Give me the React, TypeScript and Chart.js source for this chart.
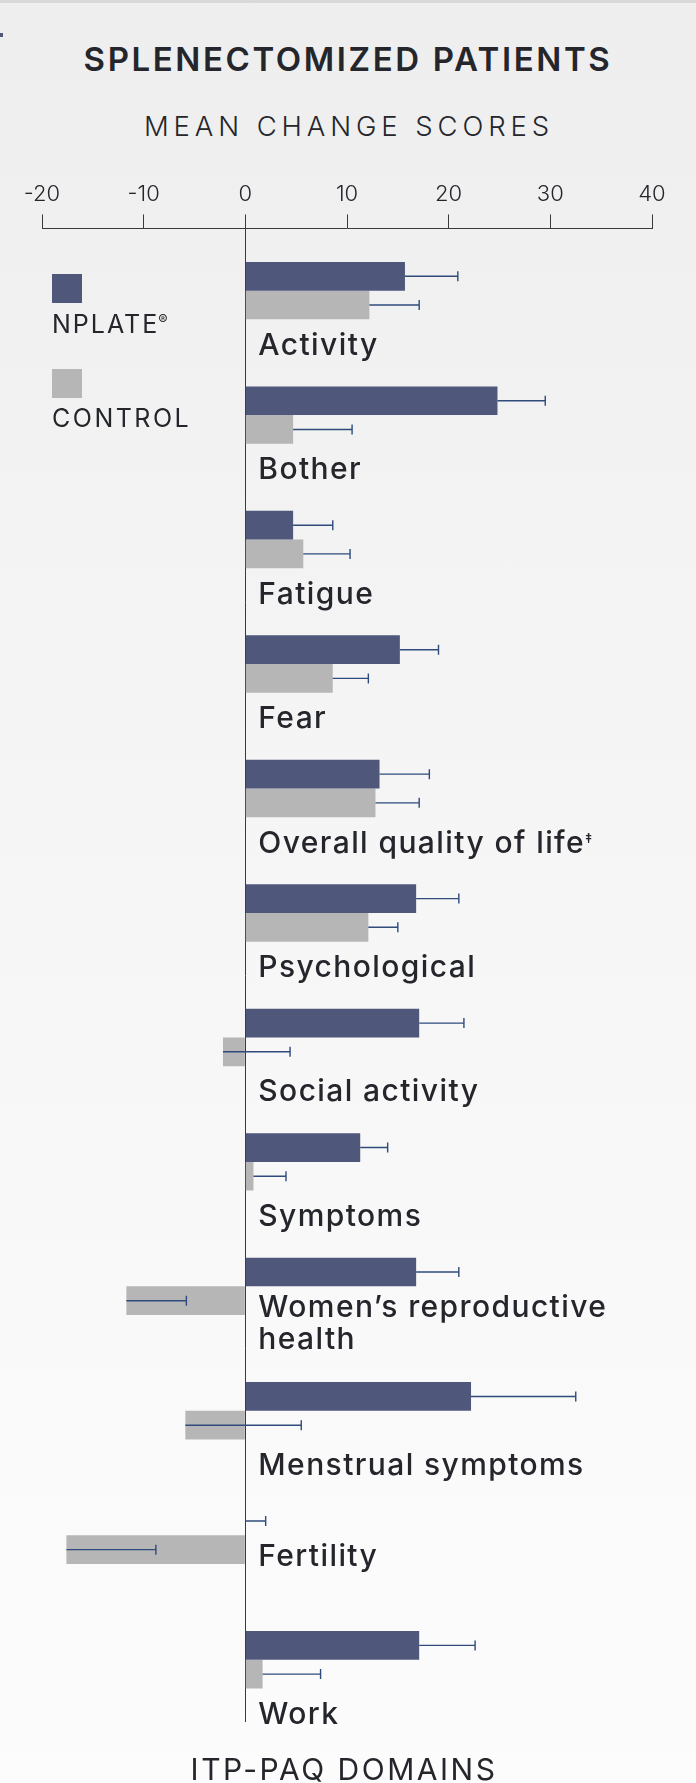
import React, { useEffect, useRef } from 'react';
import { Chart, registerables } from 'chart.js';

Chart.register(...registerables);

// ITP-PAQ domains, top to bottom
const domains: (string | string[])[] = [
  'Activity',
  'Bother',
  'Fatigue',
  'Fear',
  'Overall quality of life‡',
  'Psychological',
  'Social activity',
  'Symptoms',
  ['Women’s reproductive', 'health'],
  'Menstrual symptoms',
  'Fertility',
  'Work',
];

// mean change scores and the upper error (drawn to the right of each bar end)
const nplate = [15.7, 24.8, 4.7, 15.2, 13.2, 16.8, 17.1, 11.3, 16.8, 22.2, 0, 17.1];
const nplateErr = [5.2, 4.7, 3.9, 3.8, 4.9, 4.2, 4.4, 2.7, 4.2, 10.3, 2.0, 5.5];
const control = [12.2, 4.7, 5.7, 8.6, 12.8, 12.1, -2.2, 0.8, -11.7, -5.9, -17.6, 1.7];
const controlErr = [4.9, 5.8, 4.6, 3.5, 4.3, 2.9, 6.6, 3.2, 5.9, 11.4, 8.8, 5.7];

const axisTicks = [-20, -10, 0, 10, 20, 30, 40];

const NPLATE_LABEL = 'NPLATE®';
const CONTROL_LABEL = 'CONTROL';
const NPLATE_COLOR = '#4f577b';
const CONTROL_COLOR = '#b6b6b6';
const ERR_COLOR = '#2e4b7c';
const INK = '#24262c';
const FONT = 'Inter, "Noto Sans", sans-serif';

const errorBars = {
  id: 'errorBars',
  afterDatasetsDraw(chart: any) {
    const { ctx } = chart;
    const x = chart.scales.x;
    ctx.save();
    ctx.strokeStyle = ERR_COLOR;
    ctx.lineWidth = 1.4;
    chart.data.datasets.forEach((ds: any, di: number) => {
      const meta = chart.getDatasetMeta(di);
      meta.data.forEach((bar: any, i: number) => {
        const v = ds.data[i] as number;
        const start = x.getPixelForValue(v);
        const end = x.getPixelForValue(v + ds.errors[i]);
        const y = bar.y;
        ctx.beginPath();
        ctx.moveTo(start, y);
        ctx.lineTo(end, y);
        ctx.moveTo(end, y - 5);
        ctx.lineTo(end, y + 5);
        ctx.stroke();
      });
    });
    ctx.restore();
  },
};

const domainLabels = {
  id: 'domainLabels',
  afterDatasetsDraw(chart: any) {
    const { ctx } = chart;
    const x = chart.scales.x;
    const y = chart.scales.y;
    const left = x.getPixelForValue(0) + 13;
    ctx.save();
    ctx.fillStyle = INK;
    ctx.textAlign = 'left';
    ctx.textBaseline = 'alphabetic';
    ctx.letterSpacing = '1.4px';
    domains.forEach((label, i) => {
      const lines = Array.isArray(label) ? label : [label];
      // when the control row is all left of zero the label moves up beside it
      const tucked = control[i] + controlErr[i] <= 0;
      const base = y.getPixelForValue(i) + (tucked ? 31 : 64);
      lines.forEach((line, k) => {
        const ly = base + k * 32;
        const mark = line.endsWith('‡');
        const text = mark ? line.slice(0, -1) : line;
        ctx.font = `500 30px ${FONT}`;
        ctx.fillText(text, left, ly);
        if (mark) {
          const w = ctx.measureText(text).width;
          ctx.font = `600 13px ${FONT}`;
          ctx.fillText('‡', left + w, ly - 10);
        }
      });
    });
    ctx.restore();
  },
};

const App: React.FC = () => {
  const chartRef = useRef<HTMLCanvasElement | null>(null);

  useEffect(() => {
    const el = chartRef.current;
    if (!el) return;
    const ctx = el.getContext('2d');
    if (!ctx) return;

    const chart = new Chart(ctx, {
      type: 'bar',
      data: {
        labels: domains,
        datasets: [
          {
            label: NPLATE_LABEL,
            data: nplate,
            errors: nplateErr,
            backgroundColor: NPLATE_COLOR,
            borderWidth: 0,
          } as any,
          {
            label: CONTROL_LABEL,
            data: control,
            errors: controlErr,
            backgroundColor: CONTROL_COLOR,
            borderWidth: 0,
          } as any,
        ],
      },
      options: {
        indexAxis: 'y',
        animation: false,
        responsive: true,
        maintainAspectRatio: false,
        categoryPercentage: 0.4614,
        barPercentage: 1,
        layout: { padding: { top: 174, left: 42, right: 44, bottom: 61 } },
        plugins: {
          legend: { display: false },
          tooltip: { enabled: false },
        },
        scales: {
          x: {
            type: 'linear',
            position: 'top',
            min: axisTicks[0],
            max: axisTicks[axisTicks.length - 1],
            ticks: {
              stepSize: axisTicks[1] - axisTicks[0],
              color: INK,
              padding: 7,
              font: { family: FONT, size: 22, weight: 300 },
            },
            grid: {
              color: (c: any) => (c.tick && c.tick.value === 0 ? '#3a3a3a' : 'rgba(0,0,0,0)'),
              tickColor: '#3a3a3a',
              tickLength: 14,
              lineWidth: 1,
            },
            border: { display: true, color: '#3a3a3a', width: 1 },
          },
          y: {
            type: 'category',
            display: false,
            offset: true,
          },
        },
      } as any,
      plugins: [errorBars, domainLabels],
    });

    return () => {
      chart.destroy();
    };
  }, []);

  const text: React.CSSProperties = {
    position: 'absolute',
    fontFamily: FONT,
    color: INK,
    lineHeight: 1,
    whiteSpace: 'nowrap',
    margin: 0,
  };

  return (
    <div
      style={{
        position: 'absolute',
        left: 0,
        top: 0,
        width: 696,
        height: 1783,
        overflow: 'hidden',
        background: 'linear-gradient(to bottom, #eeeeee 0%, #f6f6f6 50%, #fcfcfc 100%)',
      }}
    >
      <div style={{ position: 'absolute', left: 0, top: 0, width: 696, height: 3, background: '#d9d9d9' }} />
      <div style={{ position: 'absolute', left: 0, top: 33, width: 3, height: 4, background: NPLATE_COLOR }} />

      <div style={{ ...text, left: 42, width: 612, top: 42.5, textAlign: 'center', fontSize: 33, fontWeight: 600, letterSpacing: 2.6 }}>
        SPLENECTOMIZED PATIENTS
      </div>
      <div style={{ ...text, left: 42, width: 614, top: 113, textAlign: 'center', fontSize: 27.5, fontWeight: 300, letterSpacing: 4.9 }}>
        MEAN CHANGE SCORES
      </div>

      <div style={{ position: 'absolute', left: 0, top: 0, width: 696, height: 1783 }}>
        <canvas ref={chartRef} />
      </div>

      <div style={{ position: 'absolute', left: 52, top: 274, width: 30, height: 29, background: NPLATE_COLOR }} />
      <div style={{ ...text, left: 52, top: 311.6, fontSize: 25, fontWeight: 400, letterSpacing: 2 }}>
        NPLATE<span style={{ fontSize: 14, position: 'relative', top: -8, marginLeft: -1 }}>®</span>
      </div>
      <div style={{ position: 'absolute', left: 52, top: 369, width: 30, height: 29, background: CONTROL_COLOR }} />
      <div style={{ ...text, left: 52, top: 405.6, fontSize: 25, fontWeight: 400, letterSpacing: 2.5 }}>
        {CONTROL_LABEL}
      </div>

      <div style={{ ...text, left: 42, width: 604, top: 1754, textAlign: 'center', fontSize: 30, fontWeight: 400, letterSpacing: 2.5 }}>
        ITP-PAQ DOMAINS
      </div>
    </div>
  );
};

export default App;
